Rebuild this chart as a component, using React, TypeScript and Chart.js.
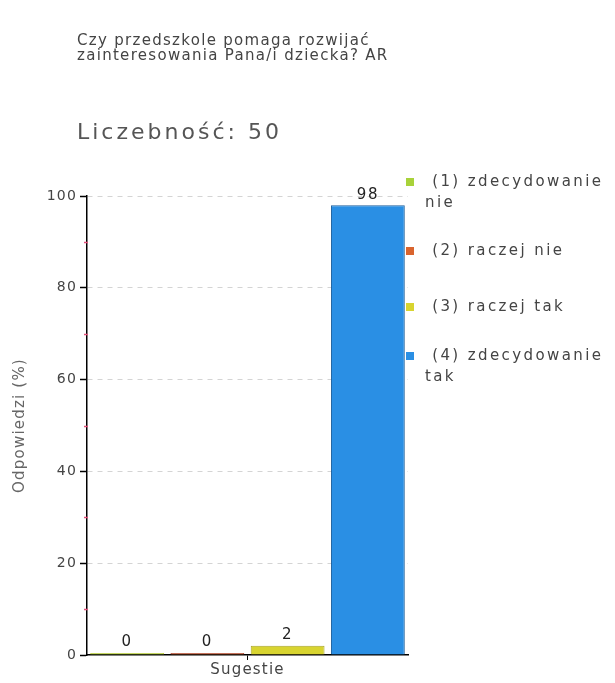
import React, { useEffect, useRef } from "react";
import { Chart, registerables } from "chart.js";

Chart.register(...registerables);

const title = ["Czy przedszkole pomaga rozwijać", "zainteresowania Pana/i dziecka? AR"];
const countLabel = "Liczebność: 50";
const categories = ["Sugestie"];
const seriesNames = [
  ["(1) zdecydowanie", "nie"],
  ["(2) raczej nie"],
  ["(3) raczej tak"],
  ["(4) zdecydowanie", "tak"],
];
const seriesValues = [0, 0, 2, 98];
const seriesColors = ["#a8d23a", "#d9642e", "#d8d430", "#2a8fe4"];
const seriesBorders = ["#c0cc40", "#a84a3a", "#a8a428", "#1d5f9c"];
const yTicks = [0, 20, 40, 60, 80, 100];
const yMinorTicks = [10, 30, 50, 70, 90];
const yTitle = "Odpowiedzi (%)";

const FONT = "'DejaVu Sans', Verdana, sans-serif";

const spacingPlugin = {
  id: "spacing",
  beforeUpdate(chart: any) { chart.ctx.letterSpacing = "1.2px"; },
  beforeDraw(chart: any) { chart.ctx.letterSpacing = "1.2px"; },
};

const extrasPlugin = {
  id: "extras",
  afterDatasetsDraw(chart: any) {
    const ctx = chart.ctx;
    const y = chart.scales.y;
    const x0 = chart.chartArea.left;
    ctx.save();
    // minor ticks
    ctx.strokeStyle = "#e0507a";
    ctx.lineWidth = 1.5;
    yMinorTicks.forEach((v) => {
      const py = Math.round(y.getPixelForValue(v)) + 0.5;
      ctx.beginPath();
      ctx.moveTo(x0 - 3, py);
      ctx.lineTo(x0 + 1, py);
      ctx.stroke();
    });
    // value labels
    ctx.letterSpacing = "1.5px";
    ctx.fillStyle = "#222";
    ctx.font = `15px ${FONT}`;
    ctx.textAlign = "center";
    ctx.textBaseline = "bottom";
    chart.data.datasets.forEach((ds: any, i: number) => {
      const meta = chart.getDatasetMeta(i);
      const el = meta.data[0];
      if (!el) return;
      ctx.fillText(String(ds.data[0]), el.x, el.y - 3);
    });
    // legend
    ctx.letterSpacing = "2.4px";
    ctx.textAlign = "left";
    ctx.textBaseline = "middle";
    ctx.font = `15px ${FONT}`;
    const itemY = [182, 251, 307, 356];
    seriesNames.forEach((lines, i) => {
      ctx.fillStyle = seriesColors[i];
      ctx.fillRect(406, itemY[i] - 4, 8, 8);
      ctx.fillStyle = "#444";
      lines.forEach((t, j) => {
        ctx.fillText(j === 0 ? " " + t : t, 425, itemY[i] + j * 21);
      });
    });
    ctx.restore();
  },
};

export default function App() {
  const ref = useRef<HTMLCanvasElement>(null);
  useEffect(() => {
    document.body.style.margin = "0";
    const chart = new Chart(ref.current!, {
      type: "bar",
      data: {
        labels: categories,
        datasets: seriesValues.map((v, i) => ({
          label: seriesNames[i].join(" "),
          data: [v],
          backgroundColor: seriesColors[i],
          borderColor: seriesBorders[i],
          borderWidth: 1,
          minBarLength: 2,
          barPercentage: 0.92,
          categoryPercentage: 1,
        })),
      },
      options: {
        responsive: false,
        animation: false,
        layout: { padding: { top: 196, right: 207, bottom: 0, left: 0 } },
        plugins: { legend: { display: false }, tooltip: { enabled: false } },
        scales: {
          x: {
            afterFit: (s: any) => { s.height = 28; },
            grid: {
              offset: false,
              drawOnChartArea: false,
              drawTicks: true,
              tickLength: 5,
              tickColor: "#000",
            },
            border: { color: "#000", width: 1.5 },
            ticks: { color: "#444", font: { family: FONT, size: 15 }, padding: 1 },
          },
          y: {
            min: 0,
            max: 100,
            afterFit: (s: any) => { s.width = 87; },
            afterBuildTicks: (s: any) => { s.ticks = yTicks.map((v) => ({ value: v })); },
            grid: {
              color: (c: any) => (c.tick && c.tick.value === 0 ? "rgba(0,0,0,0)" : "#d4d4d4"),
              tickBorderDash: [],
              tickColor: "#000",
              tickLength: 7,
              tickWidth: 1.5,
            },
            border: { color: "#000", width: 1.5, dash: [5, 5] },
            ticks: { color: "#444", font: { family: FONT, size: 14 }, padding: 3 },
            title: {
              display: true,
              text: yTitle,
              color: "#666",
              font: { family: FONT, size: 15 },
              padding: { top: 11, bottom: 0 },
            },
          },
        },
      },
      plugins: [spacingPlugin, extrasPlugin],
    });
    return () => chart.destroy();
  }, []);
  return (
    <div style={{ position: "fixed", left: 0, top: 0, width: 615, height: 683, background: "#fff" }}>
      <canvas ref={ref} width={615} height={683} style={{ position: "absolute", left: 0, top: 0 }} />
      <div style={{ position: "absolute", left: 77, top: 33, font: `15px ${FONT}`, letterSpacing: "1.3px", lineHeight: "15px", color: "#444", whiteSpace: "nowrap" }}>
        {title.map((t, i) => (<div key={i}>{t}</div>))}
      </div>
      <div style={{ position: "absolute", left: 77, top: 119, font: `22px ${FONT}`, letterSpacing: "3px", color: "#555", whiteSpace: "nowrap" }}>
        {countLabel}
      </div>
    </div>
  );
}
